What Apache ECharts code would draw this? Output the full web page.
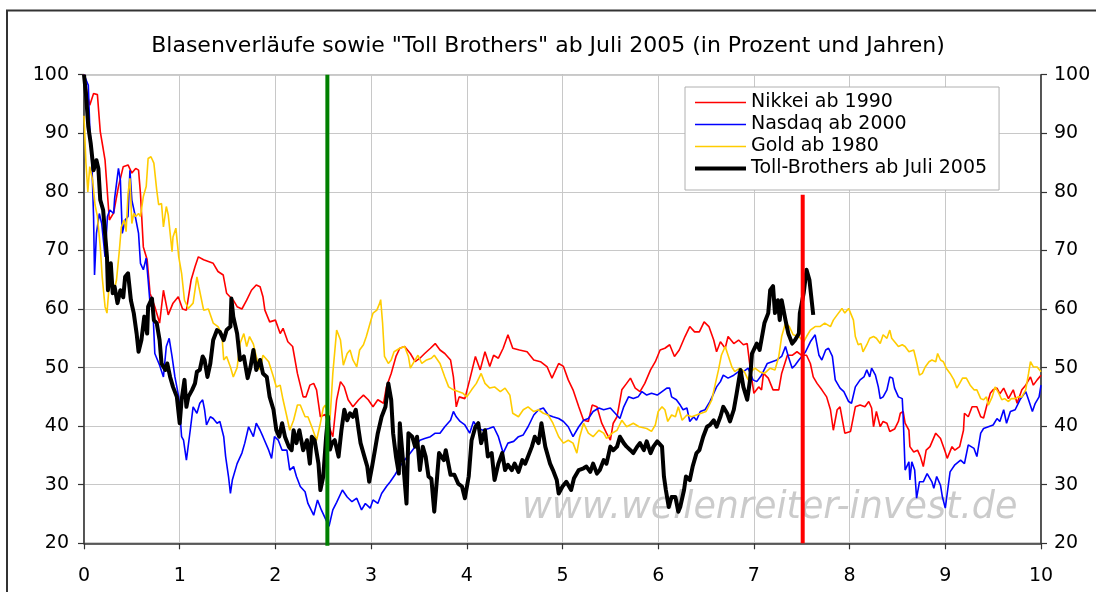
<!DOCTYPE html>
<html>
<head>
<meta charset="utf-8">
<script src="https://cdn.jsdelivr.net/npm/echarts@6/dist/echarts.min.js"></script>
<style>
html,body{margin:0;padding:0;background:#fff;}
#c{width:1096px;height:592px;}
</style>
</head>
<body>
<div id="c"></div>
<script>
const titleText = 'Blasenverläufe sowie "Toll Brothers" ab Juli 2005 (in Prozent und Jahren)';
const seriesNames = ['Nikkei ab 1990', 'Nasdaq ab 2000', 'Gold ab 1980', 'Toll-Brothers ab Juli 2005'];
const xTicks = [0,1,2,3,4,5,6,7,8,9,10];
const yTicks = [20,30,40,50,60,70,80,90,100];
const watermark = 'www.wellenreiter-invest.de';

const nikkei = [[0,100],[0.03,97],[0.06,94.8],[0.1,96.8],[0.14,96.6],[0.17,90.3],[0.2,87.4],[0.22,85.4],[0.265,75.2],[0.31,76.4],[0.36,80.9],[0.41,84.3],[0.46,84.6],[0.5,83.2],[0.54,84],[0.57,83.7],[0.59,79.7],[0.62,70.6],[0.66,68.4],[0.69,62.7],[0.74,60.4],[0.79,57.6],[0.83,63.2],[0.88,59],[0.93,61],[0.985,62.1],[1.03,60],[1.07,59.8],[1.12,65],[1.16,67.2],[1.195,68.9],[1.25,68.4],[1.3,68.1],[1.35,67.8],[1.4,66.4],[1.455,65.8],[1.49,62.7],[1.56,61.5],[1.6,60.4],[1.65,60],[1.7,61.5],[1.75,63.2],[1.8,64.1],[1.84,63.8],[1.87,62.1],[1.89,59.8],[1.94,57.8],[2.0,58.1],[2.05,55.8],[2.08,56.7],[2.13,54.4],[2.18,53.6],[2.23,49],[2.29,45],[2.32,45],[2.36,47],[2.4,47.3],[2.43,46.2],[2.45,43.9],[2.47,41.6],[2.52,42],[2.56,40],[2.6,38.2],[2.64,44.5],[2.68,47.6],[2.72,46.7],[2.76,44.5],[2.81,43.3],[2.87,44.5],[2.92,45.3],[2.97,44.5],[3.02,43.3],[3.07,44.5],[3.13,43.9],[3.16,46.7],[3.21,49],[3.26,51.9],[3.3,53.3],[3.35,53.6],[3.41,52.4],[3.46,51],[3.51,51.6],[3.56,52.4],[3.62,53.3],[3.67,54.1],[3.72,53],[3.77,52.4],[3.83,51.3],[3.86,48.4],[3.89,43.3],[3.92,45],[3.98,44.7],[4.03,47.9],[4.09,51.9],[4.14,49.6],[4.19,52.7],[4.24,50.2],[4.28,52.1],[4.33,51.6],[4.38,53.3],[4.43,55.6],[4.48,53.3],[4.55,53],[4.63,52.7],[4.7,51.3],[4.77,51],[4.84,50.1],[4.89,48.2],[4.96,50.7],[5.01,50.2],[5.06,47.9],[5.11,46.2],[5.17,43.3],[5.22,41],[5.27,40.8],[5.31,43.6],[5.36,43.3],[5.41,40.5],[5.46,38.8],[5.5,37.6],[5.53,40.5],[5.57,41.6],[5.62,46.2],[5.67,47.3],[5.71,48.2],[5.76,46.5],[5.81,45.9],[5.86,47.3],[5.92,49.6],[5.97,51],[6.02,53],[6.07,53.3],[6.12,53.9],[6.17,51.9],[6.22,53],[6.28,55.3],[6.33,57],[6.38,56.1],[6.43,56.1],[6.48,57.8],[6.53,57],[6.58,54.7],[6.61,52.7],[6.65,54.4],[6.7,53.3],[6.73,55.3],[6.79,54.1],[6.84,54.7],[6.89,53.9],[6.93,54.1],[6.96,50.1],[7.0,45.6],[7.05,46.7],[7.08,46.2],[7.1,49],[7.15,48.2],[7.2,46.2],[7.26,46.2],[7.29,49],[7.35,52.1],[7.4,52.1],[7.45,52.7],[7.5,52.1],[7.55,52.1],[7.59,50.7],[7.62,48.4],[7.66,47.3],[7.71,46.2],[7.76,45],[7.8,42.8],[7.83,39.3],[7.87,42.8],[7.9,43.3],[7.95,38.8],[8.01,39.1],[8.06,43.3],[8.11,43.6],[8.16,43.3],[8.2,44.2],[8.23,43.1],[8.25,39.9],[8.28,42.5],[8.32,39.9],[8.35,40.8],[8.39,40.5],[8.42,39.1],[8.47,39.5],[8.51,40.8],[8.53,42.2],[8.56,42.5],[8.58,40.5],[8.62,39.3],[8.63,36.5],[8.67,35.6],[8.71,35.9],[8.74,34.8],[8.77,33.1],[8.8,35.9],[8.84,36.5],[8.9,38.8],[8.95,37.9],[9.0,35.6],[9.02,34.5],[9.07,36.5],[9.1,35.9],[9.15,36.5],[9.19,39.3],[9.2,42.2],[9.24,41.6],[9.28,43.3],[9.33,43.3],[9.37,41.6],[9.4,41.4],[9.43,43.3],[9.47,45.6],[9.5,46.2],[9.54,46.5],[9.57,45.5],[9.61,46.5],[9.66,44.7],[9.71,46.2],[9.75,43.9],[9.8,46.2],[9.84,47],[9.89,48.4],[9.92,47],[9.96,47.9],[10,48.7]];

const nasdaq = [[0,100],[0.045,98.2],[0.06,91.1],[0.08,86],[0.1,75.8],[0.11,65.8],[0.13,72.9],[0.16,76.3],[0.185,74.6],[0.22,68.9],[0.245,75.8],[0.27,76.9],[0.31,76.3],[0.32,78.9],[0.36,84],[0.38,82],[0.4,72.9],[0.43,75.2],[0.46,75.8],[0.48,83.7],[0.5,78.6],[0.53,76.3],[0.57,72.9],[0.59,67.8],[0.62,66.7],[0.65,68.7],[0.67,65],[0.69,61],[0.72,59.8],[0.74,52.4],[0.79,50.4],[0.83,48.4],[0.86,53.6],[0.89,55],[0.92,51.9],[0.95,48.4],[0.99,45],[1.02,38.2],[1.04,37.6],[1.07,34.2],[1.11,39.3],[1.14,43.3],[1.18,42.2],[1.21,43.9],[1.24,44.5],[1.26,42.8],[1.28,40.2],[1.32,41.6],[1.35,41.3],[1.39,40.5],[1.42,40.8],[1.46,38.2],[1.48,34.8],[1.51,31.4],[1.53,28.5],[1.55,30.8],[1.6,33.6],[1.65,35.4],[1.68,37.1],[1.72,39.9],[1.77,38.2],[1.8,40.5],[1.84,39.3],[1.87,38.2],[1.93,35.9],[1.96,34.5],[1.99,38.2],[2.03,37.6],[2.07,35.9],[2.12,35.9],[2.15,32.5],[2.19,33.1],[2.22,31.4],[2.26,29.7],[2.31,28.8],[2.34,26.8],[2.4,24.8],[2.44,27.4],[2.48,25.7],[2.52,24.3],[2.56,22.9],[2.6,25.7],[2.64,27],[2.7,29.1],[2.75,27.9],[2.8,27.1],[2.85,27.7],[2.9,25.7],[2.94,26.8],[2.99,26],[3.02,27.4],[3.07,26.8],[3.11,28.5],[3.16,29.7],[3.2,30.5],[3.25,31.7],[3.3,33.1],[3.35,34.2],[3.41,35.4],[3.46,36.5],[3.51,37.6],[3.56,37.9],[3.62,38.2],[3.67,38.8],[3.72,38.8],[3.77,39.9],[3.83,41],[3.86,42.5],[3.89,41.6],[3.93,40.8],[3.98,40.2],[4.03,38.8],[4.07,40.8],[4.12,39.6],[4.17,39.3],[4.23,39.6],[4.28,39.9],[4.33,38.2],[4.38,35.4],[4.43,37.1],[4.49,37.4],[4.54,38.2],[4.59,38.5],[4.64,39.9],[4.7,41.9],[4.75,42.8],[4.8,43.1],[4.85,41.9],[4.9,41.6],[4.96,41.3],[5.01,40.8],[5.06,39.9],[5.11,38.2],[5.17,39.9],[5.22,41],[5.27,41.3],[5.32,42.5],[5.38,43.1],[5.43,42.8],[5.5,43.1],[5.55,42.2],[5.6,41.3],[5.64,43.3],[5.69,45],[5.74,44.7],[5.79,45],[5.83,45.9],[5.88,45.3],[5.93,45.6],[5.99,45.3],[6.04,45.9],[6.09,46.5],[6.12,46.5],[6.14,45],[6.19,44.5],[6.23,43.6],[6.26,42.8],[6.3,43.1],[6.33,40.8],[6.37,41.6],[6.4,41],[6.44,42.5],[6.49,42.8],[6.54,44.2],[6.58,45.6],[6.61,46.7],[6.65,47.6],[6.68,48.7],[6.73,48.2],[6.79,48.7],[6.84,49.3],[6.89,49.3],[6.94,49.9],[6.99,47.9],[7.03,47.6],[7.08,48.7],[7.14,50.7],[7.19,51],[7.24,51.3],[7.29,51.9],[7.33,53.6],[7.36,51.9],[7.4,49.9],[7.43,50.4],[7.47,51.3],[7.5,51.9],[7.54,52.7],[7.59,54.4],[7.64,55.6],[7.68,52.1],[7.71,51.3],[7.75,53],[7.78,53.3],[7.82,51.9],[7.85,47.9],[7.9,46.5],[7.94,45.9],[7.99,44.2],[8.02,43.9],[8.06,46.7],[8.11,47.9],[8.15,48.4],[8.18,49.6],[8.21,48.4],[8.23,49.9],[8.27,48.7],[8.3,46.7],[8.32,44.7],[8.35,45],[8.39,46.2],[8.42,48.4],[8.45,48.2],[8.47,46.5],[8.51,45],[8.55,44.7],[8.56,41.6],[8.58,32.5],[8.62,33.9],[8.63,30.8],[8.65,33.9],[8.68,32.5],[8.7,27.7],[8.73,30.5],[8.77,30.5],[8.81,31.9],[8.86,30.5],[8.88,29.4],[8.91,31.4],[8.95,29.9],[8.97,27.9],[9.0,26],[9.02,28.5],[9.05,32.2],[9.1,33.4],[9.16,34.2],[9.2,33.6],[9.24,36.8],[9.3,36.2],[9.33,34.8],[9.37,38.8],[9.4,39.6],[9.45,39.9],[9.5,40.2],[9.54,41.3],[9.57,40.8],[9.61,42.8],[9.64,40.5],[9.68,42.5],[9.73,42.8],[9.78,44.5],[9.84,45.9],[9.87,44.5],[9.91,42.5],[9.94,43.9],[9.98,45],[10,47]];

const gold = [[0,93],[0.02,85],[0.04,80],[0.06,84.3],[0.09,82],[0.115,77.8],[0.14,75.8],[0.17,70.6],[0.19,65.5],[0.22,60.4],[0.24,59.3],[0.27,65.5],[0.31,62.7],[0.34,65],[0.37,70.1],[0.39,74],[0.42,75.2],[0.44,73.2],[0.46,79.7],[0.48,82.3],[0.5,74.6],[0.52,76.3],[0.54,75.8],[0.57,76.3],[0.59,75.8],[0.62,79.2],[0.65,80.9],[0.67,85.7],[0.7,86],[0.73,84.9],[0.76,80.3],[0.78,77.8],[0.81,78],[0.83,74],[0.86,77.5],[0.88,76.1],[0.92,69.8],[0.93,72.3],[0.96,73.8],[0.99,68.9],[1.02,66.1],[1.05,61.5],[1.09,60.1],[1.14,61],[1.18,65.5],[1.2,63.8],[1.25,59.8],[1.3,60],[1.35,57.6],[1.4,57],[1.44,55.8],[1.46,51.3],[1.49,51.9],[1.53,50.1],[1.56,48.4],[1.6,50],[1.63,54.1],[1.67,55.8],[1.7,53.6],[1.73,55.3],[1.77,54],[1.8,51.9],[1.84,49.6],[1.87,52.1],[1.93,51],[1.98,48.4],[2.01,46.7],[2.05,47],[2.08,44.5],[2.12,41.6],[2.15,39.3],[2.19,41],[2.23,43.6],[2.26,43.6],[2.31,41.6],[2.34,41.6],[2.38,39.9],[2.43,37.6],[2.47,40.5],[2.5,43.1],[2.52,43.6],[2.55,42],[2.57,41],[2.6,49],[2.64,56.4],[2.68,54.7],[2.71,50.4],[2.75,52.4],[2.78,53],[2.81,51.3],[2.85,50.1],[2.88,53],[2.92,53.9],[2.95,55.3],[2.99,57.6],[3.02,59.3],[3.06,59.8],[3.09,61],[3.1,61.6],[3.12,57.6],[3.14,51.9],[3.18,50.7],[3.21,51.3],[3.24,52.7],[3.3,53.3],[3.35,53.6],[3.39,51.9],[3.41,49.9],[3.46,51.3],[3.49,52.1],[3.53,50.7],[3.58,51.3],[3.63,51.6],[3.66,52.1],[3.72,50.7],[3.77,48.4],[3.81,46.7],[3.86,46.2],[3.91,45.9],[3.96,45.6],[4.0,45],[4.05,46.2],[4.1,47.3],[4.15,49],[4.19,47.3],[4.24,46.5],[4.29,46.7],[4.35,45.9],[4.4,46.5],[4.45,45.3],[4.48,42.2],[4.54,41.6],[4.59,42.8],[4.64,43.3],[4.7,42.5],[4.75,42.8],[4.8,42.2],[4.85,41.9],[4.9,40.5],[4.96,38.2],[5.01,37.1],[5.06,37.6],[5.11,37.1],[5.15,35.4],[5.18,38.2],[5.22,40.5],[5.27,38.8],[5.32,38.2],[5.38,39.3],[5.43,38.8],[5.46,37.9],[5.52,38.8],[5.57,39.3],[5.62,41],[5.67,39.9],[5.74,40.5],[5.8,39.9],[5.88,39.6],[5.93,39.1],[5.97,40.2],[6.0,42.5],[6.04,43.3],[6.07,42.8],[6.1,40.8],[6.14,41.9],[6.18,41.6],[6.21,43.3],[6.25,41],[6.3,41.9],[6.35,41.6],[6.4,41.9],[6.45,42.2],[6.5,42.5],[6.56,44.5],[6.59,46.7],[6.63,49.6],[6.66,52.1],[6.7,53.6],[6.73,52.1],[6.77,50.1],[6.8,49.3],[6.85,49.9],[6.9,49.3],[6.94,47.9],[6.97,49.3],[7.01,49.9],[7.06,49.3],[7.11,49],[7.17,49.9],[7.22,49.6],[7.26,51.9],[7.29,55.3],[7.33,57.6],[7.37,57],[7.41,55.6],[7.47,55.3],[7.52,54.4],[7.55,55.3],[7.59,56.4],[7.64,57],[7.69,57],[7.74,57.6],[7.8,57],[7.83,58.1],[7.87,59],[7.92,60.1],[7.95,59.3],[7.99,60.1],[8.04,58.1],[8.06,55.3],[8.09,53.9],[8.12,54.1],[8.14,52.7],[8.18,53.9],[8.21,55],[8.25,55.3],[8.28,55],[8.32,54.1],[8.35,55.6],[8.39,55],[8.42,56.4],[8.44,55],[8.47,54.4],[8.51,53.6],[8.55,53.9],[8.58,53.6],[8.62,52.7],[8.67,53],[8.7,51],[8.73,48.7],[8.76,49],[8.79,50.1],[8.83,51],[8.86,51.3],[8.9,51],[8.92,52.4],[8.95,51.3],[8.98,51],[9.01,49.9],[9.05,49],[9.09,47.9],[9.12,46.5],[9.15,47.3],[9.18,48.2],[9.22,48.2],[9.26,47],[9.3,46.2],[9.33,46.2],[9.37,44.7],[9.4,44.5],[9.43,45],[9.45,43.6],[9.49,45],[9.52,46.7],[9.56,45.6],[9.59,44.5],[9.62,44.7],[9.66,44.2],[9.69,44.7],[9.73,44.7],[9.76,45],[9.8,45],[9.84,46.2],[9.87,49],[9.89,51],[9.92,50.1],[9.96,50.1],[10,49.3]];

const toll = [[0,100],[0.02,96.8],[0.045,91.1],[0.07,88.3],[0.1,83.7],[0.13,85.4],[0.15,84],[0.17,78.6],[0.2,76.9],[0.22,72.9],[0.24,68.9],[0.25,63.2],[0.28,67.8],[0.3,62.7],[0.32,63.8],[0.35,61],[0.38,63.2],[0.41,62],[0.43,65.5],[0.46,66.1],[0.49,61.5],[0.52,59.3],[0.55,55.8],[0.57,52.7],[0.6,54.7],[0.63,58.7],[0.66,55.8],[0.67,60.4],[0.71,61.8],[0.73,58.1],[0.76,57.6],[0.79,54.7],[0.81,50.7],[0.85,49.6],[0.87,50.7],[0.9,48.4],[0.93,46.7],[0.97,45],[1.0,40.5],[1.02,44.5],[1.05,47.9],[1.07,43.3],[1.09,45],[1.13,46.2],[1.16,47.3],[1.18,49.3],[1.21,49.6],[1.24,51.9],[1.26,51.3],[1.29,48.4],[1.32,50.7],[1.35,54.7],[1.39,56.4],[1.42,56.1],[1.46,54.7],[1.49,56.4],[1.53,57],[1.54,61.8],[1.56,58.7],[1.6,55.8],[1.63,51.3],[1.67,51.9],[1.71,48.2],[1.74,50.1],[1.77,53],[1.8,49.6],[1.84,51.3],[1.87,49],[1.91,48.4],[1.94,45],[1.98,42.8],[2.01,39.3],[2.04,38.2],[2.07,40.5],[2.1,38.2],[2.14,36.5],[2.17,35.9],[2.19,39.3],[2.22,37.1],[2.25,39.3],[2.29,35.9],[2.33,37.6],[2.36,33.6],[2.38,38.2],[2.41,37.6],[2.45,33.6],[2.47,29.1],[2.5,31.4],[2.53,38.2],[2.55,41.6],[2.57,36],[2.59,37.1],[2.62,37.6],[2.66,34.8],[2.69,39.3],[2.72,42.8],[2.75,41],[2.78,42.2],[2.81,41.6],[2.84,42.8],[2.87,39.3],[2.89,37.1],[2.93,34.8],[2.96,33.1],[2.98,30.5],[3.01,33.1],[3.04,35.9],[3.07,38.8],[3.11,41.6],[3.15,43.3],[3.18,47.3],[3.21,44.5],[3.23,38.8],[3.26,34.8],[3.29,31.9],[3.3,40.5],[3.33,34.8],[3.37,26.8],[3.39,38.8],[3.43,38.2],[3.46,36.5],[3.48,38.2],[3.51,32.5],[3.54,36.5],[3.57,34.8],[3.6,31.4],[3.63,31],[3.66,25.4],[3.69,31.4],[3.71,35.4],[3.76,34.2],[3.78,35.9],[3.83,31.7],[3.87,31.7],[3.91,30.2],[3.95,29.7],[3.98,27.7],[4.02,31.4],[4.05,37.6],[4.09,39.9],[4.12,40.5],[4.15,37.1],[4.19,39.3],[4.22,34.8],[4.26,35.4],[4.29,30.8],[4.33,33.6],[4.37,35.4],[4.4,32.5],[4.43,33.4],[4.47,32.5],[4.5,33.6],[4.54,32.2],[4.58,34.2],[4.61,33.6],[4.64,34.8],[4.68,36.5],[4.71,38.2],[4.75,37.1],[4.78,40.5],[4.82,36.5],[4.87,33.6],[4.9,32.5],[4.94,30.8],[4.96,28.5],[5.0,29.7],[5.04,30.5],[5.09,29.1],[5.12,31.1],[5.17,32.5],[5.22,32.8],[5.25,33.1],[5.29,32.2],[5.32,33.6],[5.36,31.9],[5.39,32.5],[5.43,34.2],[5.46,33.6],[5.5,36.5],[5.53,35.9],[5.57,36.5],[5.6,38.2],[5.64,37.1],[5.67,36.5],[5.71,35.9],[5.74,35.4],[5.78,36.5],[5.81,37.1],[5.85,35.9],[5.88,37.4],[5.92,35.4],[5.95,36.5],[5.99,37.4],[6.04,36.5],[6.06,31.4],[6.08,29.1],[6.11,26.2],[6.14,27.9],[6.18,27.9],[6.21,25.4],[6.23,26.2],[6.27,29.1],[6.29,31.4],[6.33,30.8],[6.36,33.1],[6.4,35.4],[6.43,35.9],[6.47,38.2],[6.51,39.9],[6.54,40.2],[6.58,41],[6.61,39.9],[6.65,41.6],[6.68,43.3],[6.72,42.2],[6.75,40.8],[6.79,42.8],[6.82,45.6],[6.86,49.6],[6.89,46.7],[6.93,44.5],[6.96,47.9],[6.98,52.4],[7.03,54.1],[7.06,53],[7.11,57.6],[7.15,59.3],[7.17,63.2],[7.2,63.9],[7.22,59.3],[7.25,61.5],[7.27,58.1],[7.29,61.5],[7.33,58.1],[7.36,55.8],[7.4,54.1],[7.43,54.7],[7.47,55.8],[7.48,59.3],[7.52,62.7],[7.55,66.7],[7.58,65],[7.6,65],[7.62,59]];

const greenMarker = [[2.543,19.6],[2.543,100]];
const redMarker = [[7.51,20],[7.51,79.5]];

const chart = echarts.init(document.getElementById('c'), null, {renderer:'canvas'});
const FONT = '"DejaVu Sans", Verdana, sans-serif';
const thin = (name, data, color) => ({
  name, type:'line', data, symbol:'none', showSymbol:false, animation:false,
  lineStyle:{color, width:1.6}, itemStyle:{color}, z:2
});
const yAxisBase = (pos) => ({
  type:'value', position:pos, min:20, max:100, interval:10,
  axisLine:{show:true, lineStyle:{color:'#333', width:1.5}},
  axisTick:{show:true, inside:false, length:6, lineStyle:{color:'#333', width:1.2}},
  axisLabel:{color:'#000', fontSize:19, fontFamily:FONT, margin: pos==='left' ? 15 : 13},
  splitLine:{show: pos==='left', lineStyle:{color:'#c8c8c8', width:1}}
});
const legendData = seriesNames.map((n, i) => i === 3
  ? {name:n, lineStyle:{width:4, color:'#000'}}
  : {name:n, lineStyle:{width:1.6}});
chart.setOption({
  backgroundColor:'#fff',
  animation:false,
  title:{text:titleText, left:'center', top:30, textStyle:{fontSize:22, fontWeight:'normal', fontFamily:FONT, color:'#000'}},
  grid:{left:84, right:55, top:74.7, bottom:48.7, show:true, borderColor:'#999', borderWidth:1.5, containLabel:false},
  legend:{
    data:legendData, orient:'vertical', left:685, top:87,
    itemWidth:51, itemHeight:14, itemGap:3,
    itemStyle:{color:'rgba(0,0,0,0)', borderWidth:0, opacity:0},
    textStyle:{fontSize:19, fontFamily:FONT, color:'#000'},
    backgroundColor:'#fff', borderColor:'#b0b0b0', borderWidth:1, borderRadius:0,
    padding:[6,12,12,8], selectedMode:false
  },
  xAxis:{
    type:'value', min:0, max:10, interval:1,
    axisLine:{show:true, onZero:false, lineStyle:{color:'#333', width:1.5}},
    axisTick:{show:true, length:6, lineStyle:{color:'#333', width:1.2}},
    axisLabel:{color:'#000', fontSize:19, fontFamily:FONT, margin:23},
    splitLine:{show:true, lineStyle:{color:'#c8c8c8', width:1}}
  },
  yAxis:[yAxisBase('left'), yAxisBase('right')],
  graphic:[
    {type:'rect', shape:{x:7, y:10.5, width:1200, height:800}, style:{fill:'none', stroke:'#333', lineWidth:2}, z:-1, silent:true},
    {type:'text', left:522, top:490, z:1, silent:true,
     style:{text:watermark, font:'oblique 36.5px "DejaVu Sans", sans-serif', fill:'#cbcbcb', shadowBlur:3, shadowColor:'#d0d0d0'}}
  ],
  series:[
    thin(seriesNames[0], nikkei, '#ff0000'),
    thin(seriesNames[1], nasdaq, '#0000ff'),
    thin(seriesNames[2], gold, '#ffcc00'),
    {name:seriesNames[3], type:'line', data:toll, symbol:'none', showSymbol:false, lineStyle:{color:'#000', width:4, join:'round'}, itemStyle:{color:'#000'}, z:3},
    {name:'green', type:'line', data:greenMarker, symbol:'none', clip:false, lineStyle:{color:'#008000', width:4}, z:4},
    {name:'red', type:'line', data:redMarker, symbol:'none', lineStyle:{color:'#ff0000', width:4}, z:4}
  ]
});
</script>
</body>
</html>
